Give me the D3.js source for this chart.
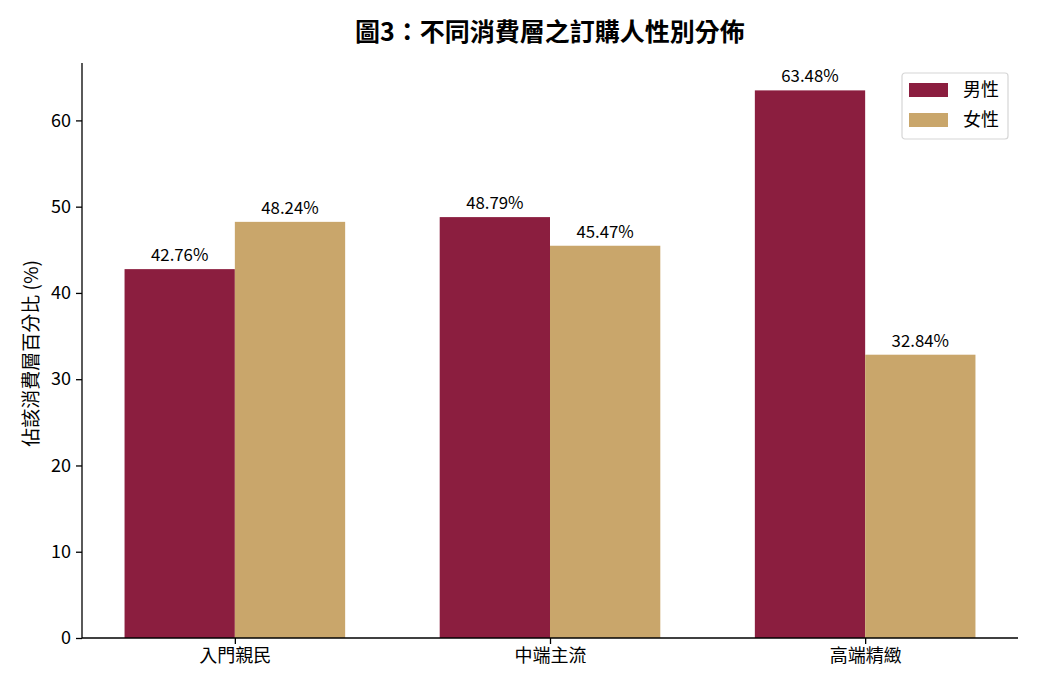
<!DOCTYPE html>
<html>
<head>
<meta charset="utf-8">
<script src="https://cdn.jsdelivr.net/npm/d3@7"></script>
<style>
  body { margin: 0; background: #fff; }
  text { font-family: "Noto Sans CJK TC", "Noto Sans", sans-serif; fill: #000; }
</style>
</head>
<body>
<svg id="chart" width="1039" height="693"></svg>
<script>
  const categories = ["入門親民", "中端主流", "高端精緻"];
  const series = ["男性", "女性"];
  const male = [42.76, 48.79, 63.48];
  const female = [48.24, 45.47, 32.84];
  const yTicks = [0, 10, 20, 30, 40, 50, 60];
  const colors = ["#8b1e3f", "#c9a66b"];

  const svg = d3.select("#chart");
  const plotLeft = 82, plotRight = 1018, plotTop = 63, plotBottom = 638;
  const fontSize = 18;

  // matplotlib-like limits: bars span -0.35..2.35, plus 5% margin
  const x = d3.scaleLinear().domain([-0.485, 2.485]).range([plotLeft, plotRight]);
  const maxVal = d3.max(male.concat(female));
  const y = d3.scaleLinear().domain([0, maxVal * 1.05]).range([plotBottom, plotTop]);
  const barW = 0.35;

  const data = [];
  categories.forEach((c, i) => {
    data.push({ cat: i, s: 0, v: male[i] });
    data.push({ cat: i, s: 1, v: female[i] });
  });

  svg.selectAll("rect.bar").data(data).enter().append("rect")
    .attr("class", "bar")
    .attr("x", d => x(d.cat + (d.s === 0 ? -barW : 0)))
    .attr("width", d => x(barW) - x(0))
    .attr("y", d => y(d.v))
    .attr("height", d => y(0) - y(d.v))
    .attr("fill", d => colors[d.s]);

  svg.selectAll("text.val").data(data).enter().append("text")
    .attr("class", "val")
    .attr("x", d => x(d.cat + (d.s === 0 ? -barW / 2 : barW / 2)))
    .attr("y", d => y(d.v) - 8)
    .attr("text-anchor", "middle")
    .attr("font-size", 16.8)
    .text(d => d.v.toFixed(2) + "%");

  // axes
  const yAxis = d3.axisLeft(y).tickValues(yTicks).tickSize(6).tickPadding(5);
  const gy = svg.append("g").attr("transform", `translate(${plotLeft},0)`).call(yAxis);
  const xAxis = d3.axisBottom(x).tickValues([0, 1, 2]).tickFormat(i => categories[i]).tickSize(6).tickPadding(5);
  const gx = svg.append("g").attr("transform", `translate(0,${plotBottom})`).call(xAxis);
  [gx, gy].forEach(g => {
    g.select(".domain").attr("stroke", "#000").attr("stroke-width", 1.3);
    g.selectAll(".tick line").attr("stroke", "#000").attr("stroke-width", 1.3);
    g.selectAll(".tick text").attr("font-size", fontSize).attr("fill", "#000")
      .style("font-family", '"Noto Sans CJK TC", "Noto Sans", sans-serif');
  });
  gy.select(".domain").attr("d", `M0,${plotBottom}V${plotTop}`);
  gx.select(".domain").attr("d", `M${plotLeft},0H${plotRight}`);

  svg.append("text")
    .attr("transform", `translate(38,${(plotTop + plotBottom) / 2 + 3}) rotate(-90)`)
    .attr("text-anchor", "middle")
    .attr("font-size", 19)
    .text("佔該消費層百分比 (%)");

  svg.append("text")
    .attr("x", (plotLeft + plotRight) / 2)
    .attr("y", 41)
    .attr("text-anchor", "middle")
    .attr("font-size", 25)
    .attr("font-weight", "bold")
    .text("圖3：不同消費層之訂購人性別分佈");

  // legend
  const lg = svg.append("g").attr("transform", "translate(902,73)");
  lg.append("rect").attr("width", 106).attr("height", 66).attr("rx", 3)
    .attr("fill", "#fff").attr("stroke", "#d6d6d6").attr("stroke-width", 1.2);
  series.forEach((s, i) => {
    lg.append("rect").attr("x", 7).attr("y", 10 + i * 30).attr("width", 39).attr("height", 14)
      .attr("fill", colors[i]);
    lg.append("text").attr("x", 61).attr("y", 23 + i * 30).attr("font-size", fontSize).text(s);
  });
</script>
</body>
</html>
